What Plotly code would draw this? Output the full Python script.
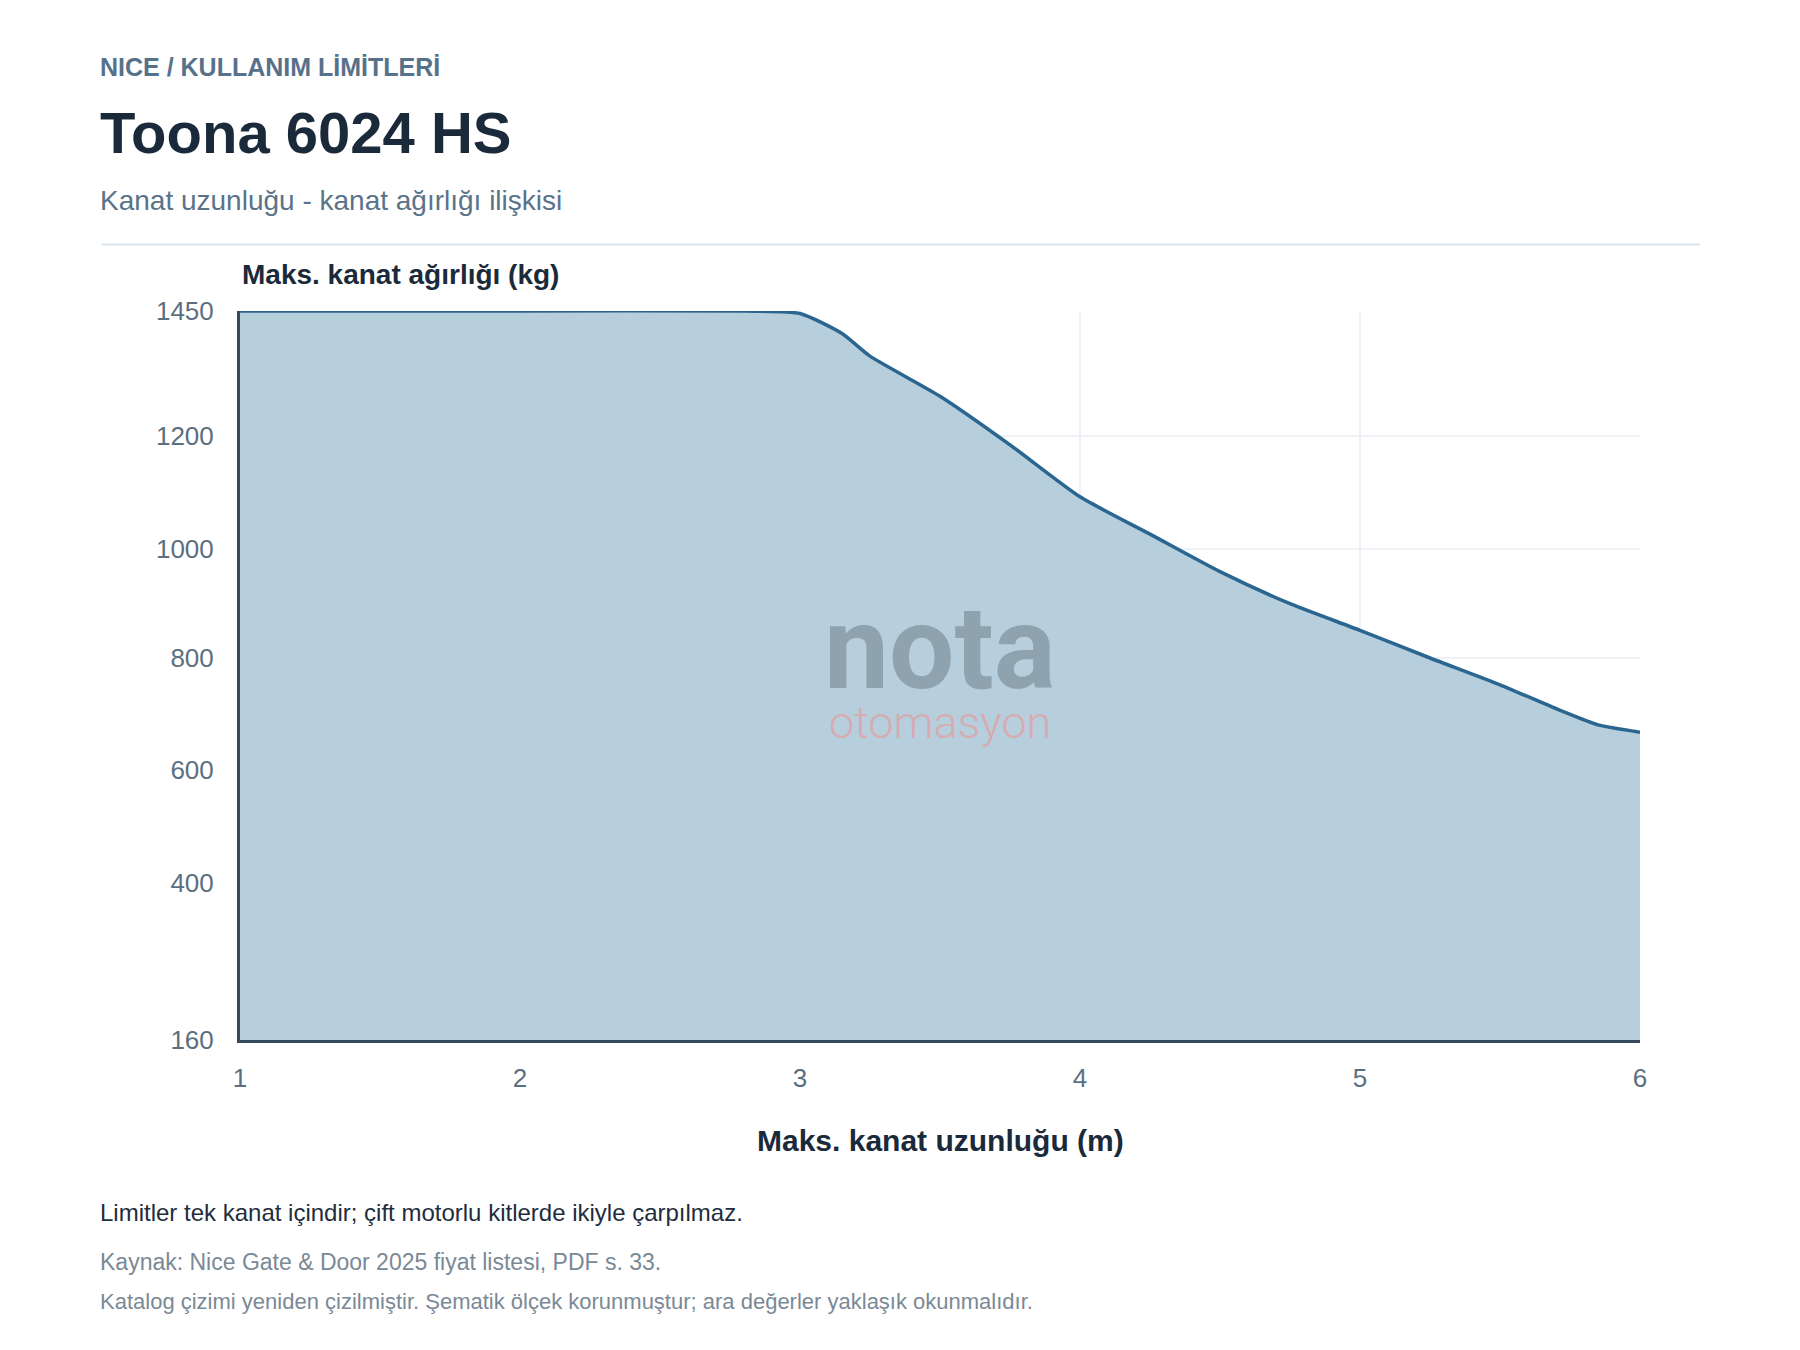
import numpy as np
import plotly.graph_objects as go

# kanat uzunlugu (m) / maks. kanat agirligi (kg), katalog egrisinden okundu
LENGTH_M = [1.0, 2.0, 2.8, 3.0, 3.15, 3.25, 3.5, 3.75, 4.0, 4.25, 4.5, 4.75, 5.0, 5.25, 5.5, 5.72, 5.85, 6.0]
WEIGHT_KG = [1450, 1450, 1450, 1445, 1405, 1360, 1280, 1185, 1093, 1027, 959, 900, 851, 800, 752, 705, 680, 667]

# sematik y ekseni: tik degerleri ve katalogdaki goreli konumlari
Y_TICKS_KG = [160, 400, 600, 800, 1000, 1200, 1450]
Y_TICKS_POS = [0.0, 0.216, 0.371, 0.524, 0.673, 0.828, 1.0]
X_TICKS = [1, 2, 3, 4, 5, 6]

FONT = "Liberation Sans, Arial, Helvetica, sans-serif"
MARK = "Roboto, Liberation Sans, sans-serif"
LEFT = -0.1014


def to_schematic(kg):
    # katalog cizimindeki parcali dogrusal olcek
    return np.interp(kg, Y_TICKS_KG, Y_TICKS_POS)


fig = go.Figure()
fig.add_trace(go.Scatter(
    x=LENGTH_M,
    y=to_schematic(WEIGHT_KG),
    mode="lines",
    line=dict(color="#2a6690", width=3.5, shape="spline", smoothing=0.6),
    fill="tozeroy",
    fillcolor="#b7cfdd",
    hoverinfo="skip",
))

fig.update_layout(
    width=1800, height=1350,
    margin=dict(l=232, r=168, t=303, b=318),
    paper_bgcolor="white", plot_bgcolor="white",
    showlegend=False,
    font=dict(family=FONT, color="#5b6f80"),
    xaxis=dict(
        range=[1, 6], tickvals=X_TICKS,
        showgrid=True, gridcolor="#eef1f5", gridwidth=1.5,
        zeroline=False, showline=True, linecolor="#34495e", linewidth=3,
        ticks="outside", ticklen=13, tickcolor="rgba(0,0,0,0)",
        tickfont=dict(size=26, color="#5b6f80"),
    ),
    yaxis=dict(
        range=[0, 1], tickvals=Y_TICKS_POS, ticktext=[str(v) for v in Y_TICKS_KG],
        showgrid=True, gridcolor="#eef1f5", gridwidth=1.5,
        zeroline=False, showline=True, linecolor="#34495e", linewidth=3,
        ticks="outside", ticklen=18, tickcolor="rgba(0,0,0,0)",
        tickfont=dict(size=26, color="#5b6f80"),
    ),
)

# ust basliklar
fig.add_annotation(text="<b>NICE / KULLANIM LİMİTLERİ</b>", x=LEFT, y=1.3347,
                   xref="paper", yref="paper", xanchor="left", yanchor="middle",
                   showarrow=False, font=dict(size=25, color="#56718a"))
fig.add_annotation(text="<b>Toona 6024 HS</b>", x=LEFT, y=1.2445,
                   xref="paper", yref="paper", xanchor="left", yanchor="middle",
                   showarrow=False, font=dict(size=58, color="#1b2a3a"))
fig.add_annotation(text="Kanat uzunluğu - kanat ağırlığı ilişkisi", x=LEFT, y=1.1512,
                   xref="paper", yref="paper", xanchor="left", yanchor="middle",
                   showarrow=False, font=dict(size=28, color="#5a7389"))
fig.add_shape(type="line", xref="paper", yref="paper", x0=-0.0989, x1=1.0426,
              y0=1.0911, y1=1.0911, line=dict(color="#d9e3ec", width=2))

# eksen basliklari
fig.add_annotation(text="<b>Maks. kanat ağırlığı (kg)</b>", x=0, y=1.050,
                   xref="paper", yref="paper", xanchor="left", yanchor="middle",
                   showarrow=False, font=dict(size=28, color="#1b2a3a"))
fig.add_annotation(text="<b>Maks. kanat uzunluğu (m)</b>", x=0.5, y=-0.1374,
                   xref="paper", yref="paper", xanchor="center", yanchor="middle",
                   showarrow=False, font=dict(size=30, color="#1b2a3a"))

# filigran
fig.add_annotation(text="<b>nota</b>", x=0.5, y=0.538,
                   xref="paper", yref="paper", xanchor="center", yanchor="middle",
                   showarrow=False, font=dict(size=116, family=MARK, color="#8ea3ae"))
fig.add_annotation(text="otomasyon", x=0.5, y=0.436,
                   xref="paper", yref="paper", xanchor="center", yanchor="middle",
                   showarrow=False, font=dict(size=45, family=MARK, weight=300, color="#d6abb1"))

# alt notlar
fig.add_annotation(text="Limitler tek kanat içindir; çift motorlu kitlerde ikiyle çarpılmaz.",
                   x=LEFT, y=-0.2362, xref="paper", yref="paper",
                   xanchor="left", yanchor="middle", showarrow=False,
                   font=dict(size=24, color="#1f2d3d"))
fig.add_annotation(text="Kaynak: Nice Gate & Door 2025 fiyat listesi, PDF s. 33.",
                   x=LEFT, y=-0.3048, xref="paper", yref="paper",
                   xanchor="left", yanchor="middle", showarrow=False,
                   font=dict(size=23, color="#7a8995"))
fig.add_annotation(text="Katalog çizimi yeniden çizilmiştir. Şematik ölçek korunmuştur; ara değerler yaklaşık okunmalıdır.",
                   x=LEFT, y=-0.3583, xref="paper", yref="paper",
                   xanchor="left", yanchor="middle", showarrow=False,
                   font=dict(size=22, color="#7a8995"))

fig.write_html("out.html")
